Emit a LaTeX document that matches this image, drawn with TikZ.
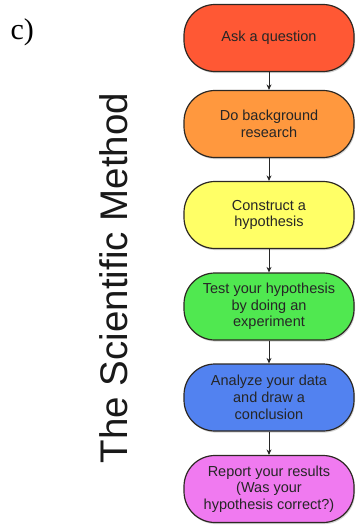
\documentclass[tikz,border=0pt]{standalone}
\usepackage{fontspec}
\setmainfont{Liberation Sans}
\newfontfamily\labelserif{Liberation Serif}
\usetikzlibrary{arrows.meta,shadows}
\definecolor{stepred}{RGB}{255,88,52}
\definecolor{steporange}{RGB}{255,152,62}
\definecolor{stepyellow}{RGB}{255,255,102}
\definecolor{stepgreen}{RGB}{80,232,80}
\definecolor{stepblue}{RGB}{82,130,240}
\definecolor{steppink}{RGB}{240,122,240}
\definecolor{outline}{RGB}{45,40,35}
\tikzset{
  stage/.style={draw=outline, line width=1.2pt, rectangle, rounded corners=31pt,
    minimum width=170pt, minimum height=67pt, inner sep=2pt, align=center,
    text=black!85, font=\fontsize{14.5}{16.7}\selectfont,
    drop shadow={shadow xshift=1pt, shadow yshift=-1.6pt, opacity=0.35}},
  flow/.style={-{Stealth[length=5.5pt,width=5pt]}, line width=1pt, draw=black!85}
}
\begin{document}
\begin{tikzpicture}[x=1pt,y=-1pt]
\useasboundingbox (0,0) rectangle (359,529);
\node[font=\labelserif\fontsize{30}{33}\selectfont, anchor=base west] (tag) at (7,40) {c)};
\node[rotate=90, font=\fontsize{38.5}{42}\selectfont, text=black!90] (title) at (113.5,278) {The Scientific Method};
\node[stage, fill=stepred]    (s1) at (269,38)    {Ask a question};
\node[stage, fill=steporange] (s2) at (269,124)   {Do background\\research};
\node[stage, fill=stepyellow] (s3) at (269,215)   {Construct a\\hypothesis};
\node[stage, fill=stepgreen]  (s4) at (269,306.5) {Test your hypothesis\\by doing an\\experiment};
\node[stage, fill=stepblue]   (s5) at (269,397.5) {Analyze your data\\and draw a\\conclusion};
\node[stage, fill=steppink]   (s6) at (269,489)   {Report your results\\(Was your\\hypothesis correct?)};
\draw[flow] (s1) -- (s2);
\draw[flow] (s2) -- (s3);
\draw[flow] (s3) -- (s4);
\draw[flow] (s4) -- (s5);
\draw[flow] (s5) -- (s6);
\end{tikzpicture}
\end{document}
